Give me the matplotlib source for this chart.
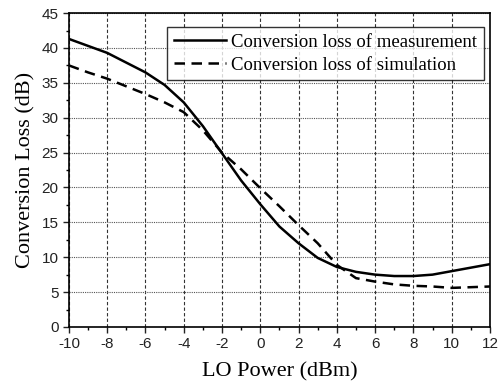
import matplotlib.pyplot as plt
from matplotlib.ticker import MultipleLocator

# LO power sweep (dBm) and conversion loss (dB)
lo_power = [-10, -9, -8, -7, -6, -5, -4, -3, -2, -1, 0, 1, 2, 3, 4, 5, 6, 7, 8, 9, 10, 11, 12]
loss_meas = [41.3, 40.3, 39.3, 37.9, 36.5, 34.7, 32.2, 28.8, 24.9, 21.0, 17.6, 14.4, 12.0, 9.9, 8.6, 7.9,
             7.5, 7.3, 7.3, 7.5, 8.0, 8.5, 9.0]
loss_sim = [37.5, 36.5, 35.6, 34.5, 33.4, 32.2, 30.8, 28.2, 25.0, 22.6, 19.9, 17.3, 14.6, 12.0, 8.9, 7.0,
            6.5, 6.1, 5.9, 5.8, 5.6, 5.7, 5.8]

xticks = list(range(-10, 13, 2))
yticks = list(range(0, 46, 5))

serif = ['Liberation Serif', 'DejaVu Serif']
plt.rcParams['font.family'] = ['Liberation Sans', 'DejaVu Sans']
plt.rcParams['axes.unicode_minus'] = False

fig = plt.figure(figsize=(5.03, 3.86), dpi=100)
ax = fig.add_axes([0.137, 0.153, 0.837, 0.813])

ax.plot(lo_power, loss_meas, color='black', lw=1.8, ls='-',
        label='Conversion loss of measurement')
ax.plot(lo_power, loss_sim, color='black', lw=1.8, ls=(0, (4.2, 2.6)),
        label='Conversion loss of simulation')

ax.set_xlim(-10, 12)
ax.set_ylim(0, 45)
ax.set_xticks(xticks)
ax.set_yticks(yticks)
ax.xaxis.set_minor_locator(MultipleLocator(1))
ax.yaxis.set_minor_locator(MultipleLocator(2.5))
ax.tick_params(which='major', direction='out', length=4, width=1, labelsize=11, colors='#222222')
ax.tick_params(which='minor', direction='out', length=2.5, width=1)

# vertical grid dashed, horizontal grid dotted
ax.xaxis.grid(True, ls=(0, (3, 2)), lw=0.8, color='#333333')
ax.yaxis.grid(True, ls=(0, (1, 1)), lw=0.8, color='#555555')
for sp in ax.spines.values():
    sp.set_linewidth(1.2)

ax.set_xlabel('LO Power (dBm)', family=serif, fontsize=16, labelpad=8)
ax.set_ylabel('Conversion Loss (dB)', family=serif, fontsize=16, labelpad=4)

leg = ax.legend(loc='upper right', bbox_to_anchor=(0.985, 0.955), prop={'family': serif, 'size': 13.5},
                frameon=True, fancybox=False, edgecolor='black', handlelength=2.8,
                handletextpad=0.25, borderpad=0.35, labelspacing=0.3, borderaxespad=0)
leg.get_frame().set_linewidth(1.0)

fig.savefig('out.png', dpi=100)
